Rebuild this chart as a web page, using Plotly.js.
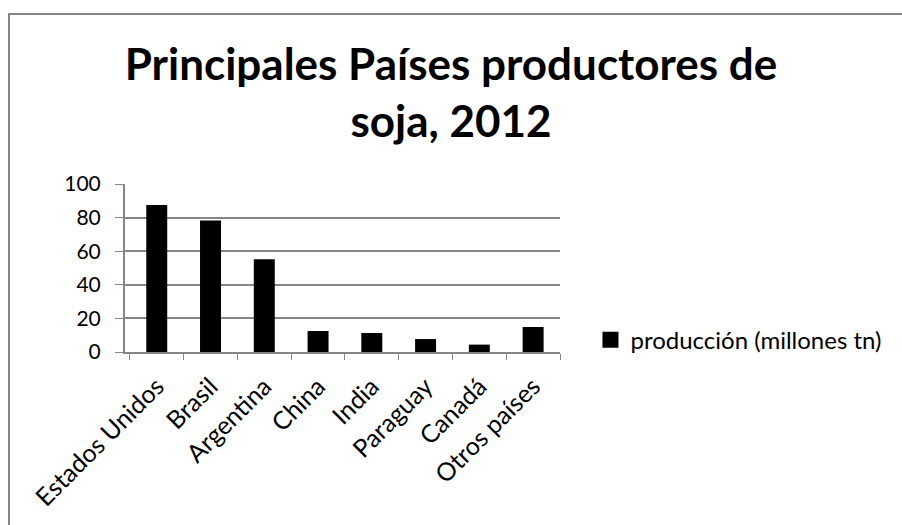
<!DOCTYPE html>
<html>
<head>
<meta charset="utf-8">
<script src="https://cdn.plot.ly/plotly-3.0.1.min.js"></script>
<style>
html,body{margin:0;padding:0;background:#fff;}
#wrap{position:relative;width:902px;height:525px;}
#chart{width:902px;height:525px;}
#frame{position:absolute;left:8px;top:13px;right:0;bottom:0;border-top:2px solid #868686;border-left:2px solid #868686;pointer-events:none;}
</style>
</head>
<body>
<div id="wrap"><div id="chart"></div><div id="frame"></div></div>
<script>
const categories = ["Estados Unidos", "Brasil", "Argentina", "China", "India", "Paraguay", "Canadá", "Otros países"];
const produccion = [87.5, 78.2, 55.2, 12.5, 11.3, 7.7, 4.4, 14.9];
const seriesName = "producción (millones tn)";
const titleText = "Principales Países productores de<br>soja, 2012";
const yTicks = [0, 20, 40, 60, 80, 100];

const font = "Lato, 'Open Sans', sans-serif";

const barTrace = {
  type: "bar",
  x: categories,
  y: produccion,
  name: seriesName,
  marker: {color: "#000000", line: {color: "#000000", width: 0}},
  showlegend: false
};

// legend-only entry with a larger square swatch (no visible point)
const legendTrace = {
  type: "scatter",
  mode: "markers",
  x: [categories[0]],
  y: [null],
  name: seriesName,
  marker: {symbol: "square", size: 16, color: "#000000"},
  showlegend: true,
  hoverinfo: "skip"
};

const layout = {
  width: 902, height: 525,
  paper_bgcolor: "#ffffff", plot_bgcolor: "#ffffff",
  margin: {l: 125, r: 342, t: 184, b: 173, autoexpand: false},
  font: {family: font, color: "#000000", size: 20},
  title: {
    text: titleText,
    font: {family: font, size: 44, color: "#000000", weight: "bold"},
    x: 0.5, xanchor: "center", xref: "container",
    y: 1 - 80/525, yanchor: "top", yref: "container"
  },
  bargap: 0.61,
  xaxis: {
    type: "category",
    tickangle: -45,
    tickson: "boundaries",
    ticks: "outside", ticklen: 6, tickcolor: "#868686", tickwidth: 1,
    showline: true, linecolor: "#868686", linewidth: 2,
    showgrid: false,
    automargin: false,
    ticklabelstandoff: 8,
    tickfont: {family: font, size: 25, color: "#000000"}
  },
  yaxis: {
    range: [0, 100],
    tickvals: yTicks,
    ticks: "outside", ticklen: 8, tickcolor: "#868686", tickwidth: 1,
    showline: true, linecolor: "#868686", linewidth: 2,
    showgrid: true, gridcolor: "#868686", gridwidth: 2,
    zeroline: false,
    automargin: false,
    ticklabelstandoff: 10,
    tickfont: {family: font, size: 21, color: "#000000"}
  },
  showlegend: true,
  legend: {
    x: 1.07, xanchor: "left",
    y: 0.07, yanchor: "middle",
    font: {family: font, size: 24, color: "#000000"},
    itemwidth: 30,
    bgcolor: "rgba(0,0,0,0)"
  }
};

Plotly.newPlot("chart", [barTrace, legendTrace], layout, {displayModeBar: false, staticPlot: true});
</script>
</body>
</html>
